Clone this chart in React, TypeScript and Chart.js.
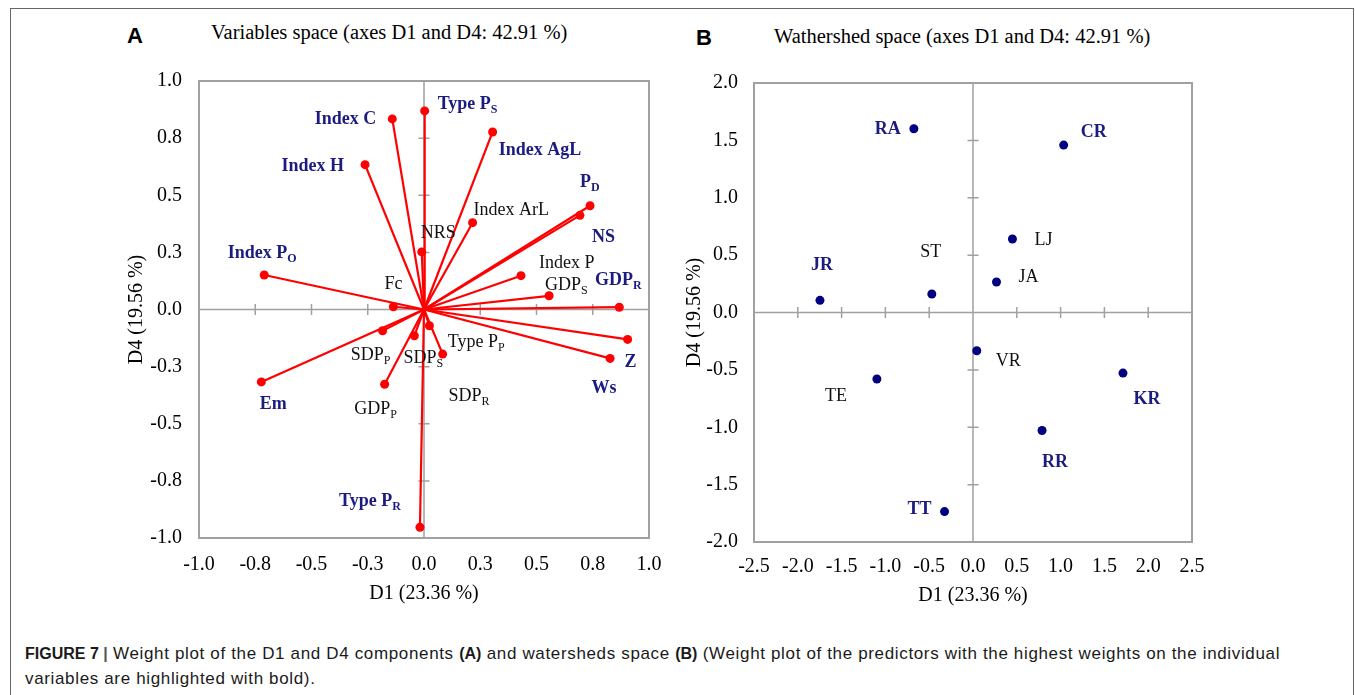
import React, { useEffect, useRef } from "react";
import { Chart, registerables } from "chart.js";
Chart.register(...registerables);

// ---------- Panel A data (variables space) ----------
const varNames = ["Type P", "Index C", "Index AgL", "Index H", "P", "NS", "Index ArL", "NRS", "Index P", "Index P", "GDP", "Fc", "GDP", "Z", "Ws", "SDP", "SDP", "SDP", "Type P", "Em", "GDP", "Type P"];
const varSubs = ["S", "", "", "", "D", "", "", "", "O", "", "S", "", "R", "", "", "P", "S", "R", "P", "", "P", "R"];
const varD1 = [0.003, -0.141, 0.305, -0.262, 0.738, 0.693, 0.216, -0.01, -0.71, 0.431, 0.556, -0.136, 0.868, 0.905, 0.827, -0.184, -0.043, 0.024, 0.083, -0.723, -0.175, -0.018];
const varD4 = [0.869, 0.834, 0.777, 0.634, 0.454, 0.412, 0.38, 0.252, 0.151, 0.148, 0.06, 0.012, 0.01, -0.131, -0.214, -0.093, -0.115, -0.071, -0.195, -0.317, -0.327, -0.953];
const varBold = [true, true, true, true, true, true, false, false, true, false, false, false, true, true, true, false, false, false, false, true, false, true];

// ---------- Panel B data (watershed space) ----------
const wsNames = ["RA", "CR", "LJ", "JA", "JR", "ST", "VR", "TE", "KR", "RR", "TT"];
const wsD1 = [-0.675, 1.035, 0.45, 0.268, -1.747, -0.47, 0.043, -1.097, 1.712, 0.788, -0.325];
const wsD4 = [1.601, 1.459, 0.641, 0.266, 0.106, 0.161, -0.333, -0.58, -0.528, -1.028, -1.735];
const wsBold = [true, true, false, false, true, false, false, false, true, true, true];

// ---------- label placement (pixel offsets from the point; style only) ----------
type Place = [number, number, "left" | "right" | "center"];
const varLabelPlace: Place[] = [
  [13, -8, "left"], [-16, -1, "right"], [6, 17, "left"], [-21, 0, "right"], [-10, -25, "left"],
  [12, 21, "left"], [1, -14, "left"], [-1, -20, "left"], [-2, -23, "center"], [18, -14, "left"],
  [-4, -12, "left"], [0, -24, "center"], [-1, -28, "center"], [3, 22, "center"], [-6, 29, "center"],
  [-12, 23, "center"], [9, 21, "center"], [19, 69, "left"], [5, -13, "left"], [12, 21, "center"],
  [-9, 24, "center"], [-19, -27, "right"],
];
const wsLabelPlace: Place[] = [
  [-13, -1, "right"], [17, -14, "left"], [22, 0, "left"], [22, -6, "left"], [2, -36, "center"],
  [-1, -43, "center"], [19, 9, "left"], [-41, 16, "center"], [24, 25, "center"], [13, 31, "center"],
  [-13, -4, "right"],
];

const NAVY = "#1c1c80";
const RED = "#ff0000";
const AXIS_GRAY = "#a0a0a0";
const SERIF = '"Liberation Serif", "Times New Roman", serif';

function drawLabel(ctx: CanvasRenderingContext2D, x: number, y: number, main: string, sub: string, bold: boolean, align: string) {
  const mainFont = `${bold ? "bold " : ""}18px ${SERIF}`;
  const subFont = `${bold ? "bold " : ""}12px ${SERIF}`;
  ctx.font = mainFont;
  const w1 = ctx.measureText(main).width;
  ctx.font = subFont;
  const w2 = sub ? ctx.measureText(sub).width : 0;
  const total = w1 + w2;
  const sx = align === "left" ? x : align === "right" ? x - total : x - total / 2;
  ctx.textBaseline = "alphabetic";
  ctx.textAlign = "left";
  ctx.fillStyle = bold ? NAVY : "#111";
  ctx.font = mainFont;
  ctx.fillText(main, sx, y + 6);
  if (sub) {
    ctx.font = subFont;
    ctx.fillText(sub, sx + w1, y + 10);
  }
}

const framePlugin = {
  id: "frameAxes",
  beforeDatasetsDraw(chart: any) {
    const { ctx, chartArea, scales } = chart;
    const { left, right, top, bottom } = chartArea;
    const xs = scales.x, ys = scales.y;
    ctx.save();
    ctx.strokeStyle = AXIS_GRAY;
    ctx.lineWidth = 2;
    ctx.strokeRect(left, top, right - left, bottom - top);
    const x0 = xs.getPixelForValue(0);
    const y0 = ys.getPixelForValue(0);
    ctx.lineWidth = 1.5;
    ctx.beginPath();
    ctx.moveTo(left, y0);
    ctx.lineTo(right, y0);
    ctx.moveTo(x0, top);
    ctx.lineTo(x0, bottom);
    xs.ticks.forEach((t: any) => {
      const px = xs.getPixelForValue(t.value);
      if (px <= left + 2 || px >= right - 2 || t.value === 0) return;
      ctx.moveTo(px, y0 - 5.5);
      ctx.lineTo(px, y0 + 5.5);
    });
    ys.ticks.forEach((t: any) => {
      const py = ys.getPixelForValue(t.value);
      if (py <= top + 2 || py >= bottom - 2 || t.value === 0) return;
      ctx.moveTo(x0 - 5.5, py);
      ctx.lineTo(x0 + 5.5, py);
    });
    ctx.stroke();
    ctx.restore();
  },
};

function makeLabelPlugin(names: string[], subs: string[], bolds: boolean[], places: Place[], xv: number[], yv: number[]) {
  return {
    id: "pointLabels",
    afterDatasetsDraw(chart: any) {
      const { ctx, scales } = chart;
      ctx.save();
      names.forEach((n, i) => {
        const px = scales.x.getPixelForValue(xv[i]);
        const py = scales.y.getPixelForValue(yv[i]);
        const [dx, dy, al] = places[i];
        drawLabel(ctx, px + dx, py + dy, n, subs[i], bolds[i], al);
      });
      ctx.restore();
    },
  };
}

// tick gap is made with an invisible tick mark (tickLength) so that it does not add layout padding
function axisOpts(min: number, max: number, step: number, title: string, fit: (s: any) => void, tickGap: number, titlePad: any) {
  return {
    type: "linear" as const,
    min,
    max,
    grid: { display: true, drawOnChartArea: false, drawTicks: true, tickLength: tickGap, color: "rgba(0,0,0,0)" },
    border: { display: false },
    ticks: {
      stepSize: step,
      padding: 0,
      color: "#000",
      font: { family: SERIF, size: 20 },
      callback: (v: any) => Number(v).toFixed(1),
    },
    title: { display: true, text: title, color: "#000", font: { family: SERIF, size: 20 }, padding: titlePad },
    afterFit: fit,
  };
}

function PanelA() {
  const ref = useRef<HTMLCanvasElement>(null);
  useEffect(() => {
    const datasets = varNames.map((n, i) => ({
      label: n + varSubs[i],
      data: [
        { x: 0, y: 0 },
        { x: varD1[i], y: varD4[i] },
      ],
      showLine: true,
      borderColor: RED,
      backgroundColor: RED,
      borderWidth: 2.2,
      pointRadius: [0, 4.5],
      pointBorderWidth: 0,
    }));
    const chart = new Chart(ref.current!, {
      type: "scatter",
      data: { datasets },
      options: {
        animation: false,
        responsive: false,
        events: [],
        layout: { padding: { top: 21, right: 21, left: 0, bottom: 0 } },
        plugins: { legend: { display: false }, tooltip: { enabled: false } },
        scales: {
          x: axisOpts(-1, 1, 0.25, "D1 (23.36 %)", (s: any) => { s.height = 82; }, 15, { top: 0, bottom: 14 }),
          y: axisOpts(-1, 1, 0.25, "D4 (19.56 %)", (s: any) => { s.width = 99; }, 17, { top: 25, bottom: 0 }),
        },
      },
      plugins: [framePlugin, makeLabelPlugin(varNames, varSubs, varBold, varLabelPlace, varD1, varD4)],
    } as any);
    return () => chart.destroy();
  }, []);
  return <canvas ref={ref} width={570} height={560} style={{ position: "absolute", left: 100, top: 60 }} />;
}

function PanelB() {
  const ref = useRef<HTMLCanvasElement>(null);
  useEffect(() => {
    const chart = new Chart(ref.current!, {
      type: "scatter",
      data: {
        datasets: [
          {
            label: "Watersheds",
            data: wsD1.map((x, i) => ({ x, y: wsD4[i] })),
            backgroundColor: "#000080",
            borderColor: "#000080",
            pointRadius: 4.5,
            pointBorderWidth: 0,
          },
        ],
      },
      options: {
        animation: false,
        responsive: false,
        events: [],
        layout: { padding: { top: 23, right: 28, left: 0, bottom: 0 } },
        plugins: { legend: { display: false }, tooltip: { enabled: false } },
        scales: {
          x: axisOpts(-2.5, 2.5, 0.5, "D1 (23.36 %)", (s: any) => { s.height = 78; }, 13, { top: 0, bottom: 12 }),
          y: axisOpts(-2, 2, 0.5, "D4 (19.56 %)", (s: any) => { s.width = 74; }, 16, { top: 3, bottom: 0 }),
        },
      },
      plugins: [framePlugin, makeLabelPlugin(wsNames, wsNames.map(() => ""), wsBold, wsLabelPlace, wsD1, wsD4)],
    } as any);
    return () => chart.destroy();
  }, []);
  return <canvas ref={ref} width={540} height={560} style={{ position: "absolute", left: 680, top: 60 }} />;
}

export default function App() {
  const sans = '"Liberation Sans", Arial, Helvetica, sans-serif';
  const reg = { fontWeight: "normal" as const, fontSize: 17, letterSpacing: "0.65px" };
  return (
    <div style={{ position: "absolute", left: 0, top: 0, width: 1355, height: 695, overflow: "hidden", background: "#fff" }}>
      <div style={{ position: "absolute", left: 10, top: 8, width: 1344, height: 720, border: "1.5px solid #666", boxSizing: "border-box" }} />
      <div style={{ position: "absolute", left: 127, top: 23, fontFamily: sans, fontWeight: "bold", fontSize: 22, lineHeight: "26px" }}>A</div>
      <div style={{ position: "absolute", left: 211, top: 19, fontFamily: SERIF, fontSize: 20.5, lineHeight: "26px", whiteSpace: "nowrap" }}>
        Variables space (axes D1 and D4: 42.91 %)
      </div>
      <div style={{ position: "absolute", left: 696, top: 25, fontFamily: sans, fontWeight: "bold", fontSize: 22, lineHeight: "26px" }}>B</div>
      <div style={{ position: "absolute", left: 774, top: 23, fontFamily: SERIF, fontSize: 20.5, lineHeight: "26px", whiteSpace: "nowrap" }}>
        Wathershed space (axes D1 and D4: 42.91 %)
      </div>
      <PanelA />
      <PanelB />
      <div style={{ position: "absolute", left: 25, top: 641, fontFamily: sans, fontSize: 16, fontWeight: "bold", lineHeight: "25px", color: "#1a1a1a", whiteSpace: "nowrap" }}>
        FIGURE 7 <span style={{ color: "#555" }}>|</span><span style={reg}> Weight plot of the D1 and D4 components </span>(A)<span style={reg}> and watersheds space </span>(B)<span style={reg}> (Weight plot of the predictors with the highest weights on the individual</span>
        <br />
        <span style={reg}>variables are highlighted with bold).</span>
      </div>
    </div>
  );
}
